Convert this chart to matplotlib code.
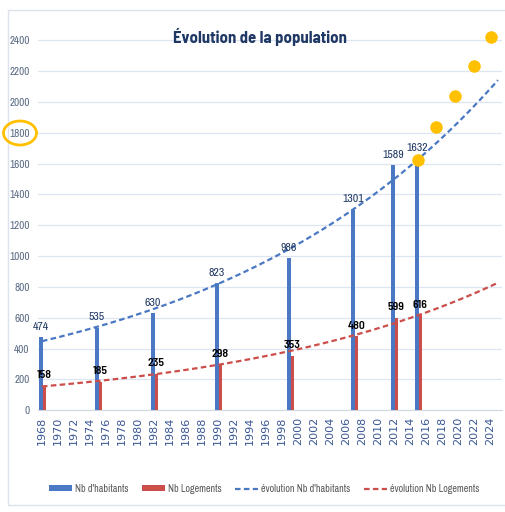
import matplotlib.pyplot as plt
import numpy as np
from matplotlib.patches import Ellipse, Rectangle

# census years and values
years = [1968, 1975, 1982, 1990, 1999, 2007, 2012, 2015]
habitants = [474, 535, 630, 823, 986, 1301, 1589, 1632]
logements = [158, 185, 235, 298, 353, 480, 599, 616]

# orange projection dots drawn on top of the chart
proj_years = [2015, 2017.2, 2019.6, 2022, 2024.1]
proj_values = [1625, 1840, 2037, 2232, 2421]

tick_years = list(range(1968, 2025, 2))
y_ticks = list(range(0, 2401, 200))

narrow = ["Archivo Narrow", "DejaVu Sans"]
narrow_bold = ["Barlow Semi Condensed", "DejaVu Sans"]

fig = plt.figure(figsize=(5.06, 5.12), dpi=100)
ax = fig.add_axes([0.075, 0.199, 0.917, 0.752])

# thin frame around the chart
fig.patches.append(Rectangle((8 / 506, 1 - 505 / 512), 1.2, 495 / 512,
                             transform=fig.transFigure, fill=False,
                             edgecolor="#DCE3EE", linewidth=1))

yr = np.array(years, dtype=float)
ax.bar(yr - 0.14, habitants, width=0.42, color="#4A78C2", zorder=3, label="Nb d'habitants")
ax.bar(yr + 0.28, logements, width=0.42, color="#CC4E4A", zorder=3, label="Nb Logements")

# exponential trend lines, like Excel
xs = np.linspace(1968, 2025, 200)
for vals, col, lab in [(habitants, "#4A78C2", "évolution Nb d'habitants"),
                       (logements, "#CC4E4A", "évolution Nb Logements")]:
    b, a = np.polyfit(yr, np.log(vals), 1)
    ax.plot(xs, np.exp(a + b * xs), linestyle=(0, (2.5, 1.5)), color=col,
            linewidth=1.6, zorder=4, label=lab)

for x, v in zip(years, habitants):
    ax.annotate(str(v), (x - 0.14, v), xytext=(0, 4), textcoords="offset points",
                ha="center", va="bottom", fontsize=8.5, color="#1F3864",
                family=narrow, zorder=6)
for x, v in zip(years, logements):
    ax.annotate(str(v), (x + 0.28, v), xytext=(0, 4), textcoords="offset points",
                ha="center", va="bottom", fontsize=8.5, color="black",
                fontweight="semibold", family=narrow_bold, zorder=6)

ax.plot(proj_years, proj_values, "o", color="#FFC000", markersize=8, zorder=7)

ax.set_xlim(1967.5, 2025.5)
ax.set_ylim(0, 2500)
ax.set_xticks(tick_years)
ax.set_xticklabels([str(t) for t in tick_years], rotation=90, fontsize=8,
                   color="#3A5796")
ax.set_yticks(y_ticks)
ax.set_yticklabels([str(t) for t in y_ticks], fontsize=8, color="#5A6A84",
                   family=narrow)
ax.tick_params(axis="both", length=0)
ax.tick_params(axis="y", pad=6)
ax.tick_params(axis="x", pad=5)
ax.grid(axis="y", color="#DDE5F2", linewidth=0.9, zorder=0)
for s in ["top", "right", "left"]:
    ax.spines[s].set_visible(False)
ax.spines["bottom"].set_color("#D0D8E6")

fig.text(0.514, 1 - 37 / 512, "Évolution de la population", ha="center",
         va="center", fontsize=12, fontweight="bold", color="#1F3864",
         family=narrow_bold)

# orange ring around the 1800 label
fig.patches.append(Ellipse((20 / 506, 1 - 133 / 512), 33 / 506, 24 / 512,
                           transform=fig.transFigure, fill=False,
                           edgecolor="#FFC000", linewidth=2))

handles, labels = ax.get_legend_handles_labels()
order = [2, 3, 0, 1]
fig.legend([handles[i] for i in order], [labels[i] for i in order],
           loc="center", bbox_to_anchor=(264 / 506, 1 - 489 / 512), ncol=4,
           frameon=False, handlelength=2.3, handleheight=0.55,
           columnspacing=1.3, handletextpad=0.3,
           prop={"family": narrow, "size": 7.3}, labelcolor="#595959")

fig.savefig("out.png", dpi=100)
